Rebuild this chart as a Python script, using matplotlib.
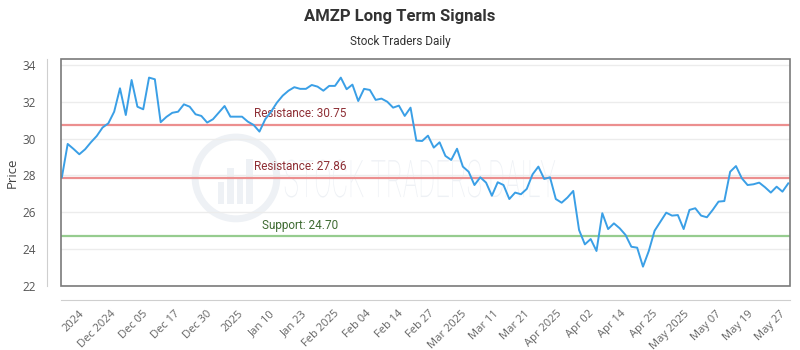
import numpy as np
import matplotlib
matplotlib.use("Agg")
import matplotlib.pyplot as plt
from matplotlib.patches import Rectangle, Ellipse, PathPatch
from matplotlib.textpath import TextPath
from matplotlib.font_manager import FontProperties
from matplotlib.transforms import Affine2D

# --- Data ---
prices = [
    27.90, 29.71, 29.44, 29.15, 29.42, 29.80, 30.14, 30.60, 30.83, 31.46,
    32.73, 31.28, 33.18, 31.73, 31.59, 33.31, 33.22, 30.89, 31.18, 31.40,
    31.46, 31.86, 31.73, 31.32, 31.23, 30.87, 31.05, 31.41, 31.77, 31.19,
    31.19, 31.19, 30.92, 30.74, 30.38, 31.05, 31.46, 31.95, 32.33, 32.60,
    32.79, 32.70, 32.70, 32.91, 32.82, 32.60, 32.86, 32.86, 33.31, 32.68,
    32.93, 32.04, 32.70, 32.64, 32.10, 32.17, 32.00, 31.68, 31.79, 31.23,
    31.68, 29.89, 29.87, 30.16, 29.51, 29.80, 29.06, 28.84, 29.45, 28.48,
    28.20, 27.48, 27.90, 27.61, 26.90, 27.63, 27.48, 26.72, 27.07, 26.98,
    27.27, 28.06, 28.48, 27.81, 27.90, 26.72, 26.52, 26.80, 27.16, 25.04,
    24.26, 24.55, 23.90, 25.95, 25.09, 25.40, 25.13, 24.77, 24.13, 24.08,
    23.05, 23.90, 25.00, 25.49, 25.98, 25.82, 25.85, 25.09, 26.13, 26.22,
    25.82, 25.73, 26.13, 26.58, 26.61, 28.20, 28.51, 27.85, 27.48, 27.52,
    27.61, 27.36, 27.07, 27.39, 27.12, 27.57,
]
tick_labels = [
    "2024", "Dec 2024", "Dec 05", "Dec 17", "Dec 30", "2025", "Jan 10",
    "Jan 23", "Feb 2025", "Feb 04", "Feb 14", "Feb 27", "Mar 2025", "Mar 11",
    "Mar 21", "Apr 2025", "Apr 02", "Apr 14", "Apr 25", "May 2025", "May 07",
    "May 19", "May 27",
]
levels = [30.75, 27.86, 24.70]
level_names = ["Resistance", "Resistance", "Support"]

# --- Style ---
FONT = "Roboto"
TICK_FONT = "Open Sans"
LINE_COLOR = "#3a9fe6"
RES_LINE, RES_TEXT = "#ec8f8f", "#8e2f35"
SUP_LINE, SUP_TEXT = "#96cc8f", "#3f6b32"
WM = "#eef1f5"

fig = plt.figure(figsize=(8, 3.5), dpi=100)
ax = fig.add_axes([61 / 800, 1 - 286 / 350, 729 / 800, 227 / 350])

x = np.arange(len(prices))
ax.set_xlim(-0.15, len(prices) - 0.7)
ax.set_ylim(22, 34.32)

# --- Watermark ---
ax.add_patch(Ellipse((0.24, 0.476), 0.112, 0.36, transform=ax.transAxes,
                     fill=False, edgecolor=WM, linewidth=5, zorder=0.5))
for bx, bh in zip([0.215, 0.228, 0.241, 0.254], [0.10, 0.16, 0.12, 0.20]):
    ax.add_patch(Rectangle((bx, 0.36), 0.009, bh, transform=ax.transAxes,
                           facecolor=WM, edgecolor="none", zorder=0.5))
tp = TextPath((0, 0), "STOCK TRADERS DAILY", size=1,
              prop=FontProperties(family=FONT, weight="light"))
bb = tp.get_extents()
wm_tr = Affine2D().translate(-bb.x0, 0).scale(0.371 / bb.width, 0.167 / bb.height) \
    .translate(0.307, 0.392) + ax.transAxes
ax.add_patch(PathPatch(tp, transform=wm_tr, facecolor=WM,
                       edgecolor="none", zorder=0.5))

# --- Grid and frame ---
ax.set_yticks(np.arange(22, 35, 2))
ax.grid(axis="y", color="#ececec", linewidth=1, zorder=0.6)
ax.grid(axis="x", visible=False)
for side in ["top", "right"]:
    ax.spines[side].set_visible(False)
for side in ["left", "bottom"]:
    ax.spines[side].set_position(("outward", 10))
    ax.spines[side].set_color("#cfcfcf")
ax.add_patch(Rectangle((0, 0), 1, 1, transform=ax.transAxes, fill=False,
                       edgecolor="#7a7a7a", linewidth=1.2, clip_on=False, zorder=3))

# --- Levels ---
for lvl, name in zip(levels, level_names):
    lc, tc = (SUP_LINE, SUP_TEXT) if name == "Support" else (RES_LINE, RES_TEXT)
    ax.axhline(lvl, color=lc, linewidth=1.6, zorder=1)
    ax.text(41, lvl + 0.25, f"{name}: {lvl:.2f}", color=tc, fontsize=8.5,
            family=FONT, ha="center", va="bottom", zorder=2)

# --- Price line ---
ax.plot(x, prices, color=LINE_COLOR, linewidth=1.4, zorder=2)

# --- Axes text ---
ticks = np.linspace(2.9, 123.5, len(tick_labels))
ax.set_xticks(ticks)
ax.set_xticklabels(tick_labels, rotation=45, ha="right", rotation_mode="anchor",
                   fontsize=8, color="#666666", family=TICK_FONT)
ax.tick_params(axis="x", length=0, pad=6)
ax.tick_params(axis="y", length=0, pad=8, labelsize=8.5, labelcolor="#555555")
for lab in ax.get_yticklabels():
    lab.set_family(TICK_FONT)
ax.set_ylabel("Price", fontsize=9.5, color="#444444", family=TICK_FONT, labelpad=3)

fig.text(0.5, 1 - 16 / 350, "AMZP Long Term Signals", ha="center", va="center",
         fontsize=12, fontweight="bold", color="#333333", family=FONT)
fig.text(0.5, 1 - 41 / 350, "Stock Traders Daily", ha="center", va="center",
         fontsize=8.5, color="#333333", family=FONT)

fig.savefig("out.png", dpi=100, facecolor="white")
